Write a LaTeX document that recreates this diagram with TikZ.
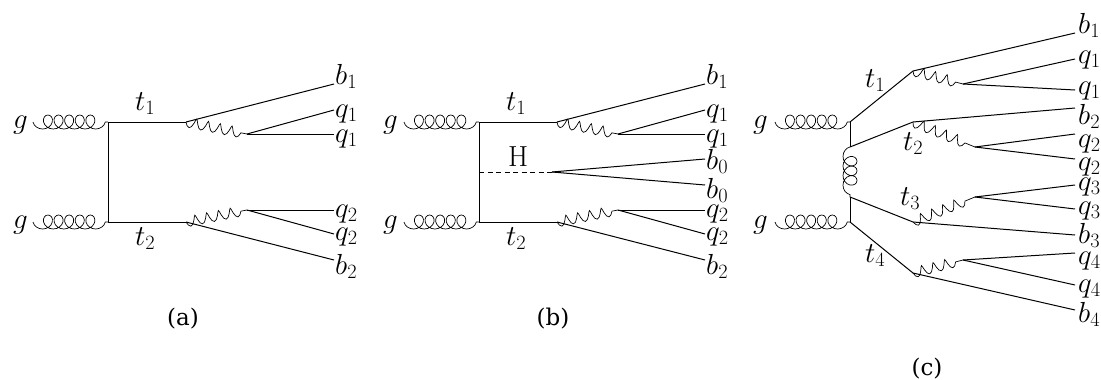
\documentclass[tikz,border=0pt]{standalone}
\usepackage{fix-cm}
\usepackage{amsmath}
\usepackage{fontspec}
\newfontfamily\capfont{DejaVu Serif}
\usetikzlibrary{positioning, decorations.pathmorphing}
\begin{document}
\begin{tikzpicture}[
      x=1pt, y=-1pt,
      lbl/.style={anchor=base west, inner sep=0pt, font=\fontsize{29}{29}\selectfont},
      capt/.style={anchor=base, inner sep=0pt, font=\fontsize{23}{23}\selectfont\capfont},
      quark/.style={black, line width=1pt},
      higgs/.style={black, line width=1pt, dash pattern=on 5pt off 3.5pt},
      wboson/.style={black, line width=0.7pt, decorate, decoration={coil, mirror, aspect=0.2, amplitude=5pt, segment length=12pt}},
      gluon/.style={black, line width=0.7pt, decorate, decoration={coil, mirror, aspect=1, amplitude=7pt, segment length=10.6pt}}
  ]
    \useasboundingbox (0,0) rectangle (1101,380);
    % (a)
    \coordinate(ag1) at (33,122); \coordinate(ag2) at (33,222);
    \coordinate(at) at (108,122); \coordinate(ab) at (108,222);
    \coordinate(au) at (186,122); \coordinate(ad) at (186,222);
    \coordinate(awu) at (247,134); \coordinate(awd) at (247,210);
    \coordinate(aeb1) at (334,84); \coordinate(aeq1) at (334,110); \coordinate(aeq2) at (334,134);
    \coordinate(aeq3) at (334,210); \coordinate(aeq4) at (334,234); \coordinate(aeb2) at (334,260);
    \draw[gluon](ag1)--(at); \draw[gluon](ag2)--(ab);
    \draw[quark](at)--(ab); \draw[quark](at)--(au); \draw[quark](ab)--(ad);
    \draw[wboson](au)--(awu); \draw[wboson](ad)--(awd);
    \draw[quark](au)--(aeb1); \draw[quark](awu)--(aeq1); \draw[quark](awu)--(aeq2);
    \draw[quark](awd)--(aeq3); \draw[quark](awd)--(aeq4); \draw[quark](ad)--(aeb2);
    \node[lbl](agt) at (13,128){$g$}; \node[lbl](agb) at (13,228){$g$};
    \node[lbl](at1) at (135,110){$t_1$}; \node[lbl](at2) at (135,245){$t_2$};
    \node[lbl](ab1) at (335,84){$b_1$}; \node[lbl](aq1) at (335,117){$q_1$}; \node[lbl](aq2) at (335,142){$q_1$};
    \node[lbl](aq3) at (335,217){$q_2$}; \node[lbl](aq4) at (335,240){$q_2$}; \node[lbl](ab2) at (335,274){$b_2$};
    \node[capt](acap) at (183,325){(a)};
    % (b)
    \coordinate(bg1) at (404,122); \coordinate(bg2) at (404,222);
    \coordinate(bt) at (479,122); \coordinate(bb) at (479,222);
    \coordinate(bm) at (479,172); \coordinate(bh) at (552,172);
    \coordinate(bu) at (557,122); \coordinate(bd) at (557,222);
    \coordinate(bwu) at (618,134); \coordinate(bwd) at (618,210);
    \coordinate(beb1) at (705,84); \coordinate(beq1) at (705,110); \coordinate(beq2) at (705,134);
    \coordinate(beb3) at (705,159); \coordinate(beb4) at (705,185);
    \coordinate(beq3) at (705,210); \coordinate(beq4) at (705,234); \coordinate(beb2) at (705,260);
    \draw[gluon](bg1)--(bt); \draw[gluon](bg2)--(bb);
    \draw[quark](bt)--(bb); \draw[quark](bt)--(bu); \draw[quark](bb)--(bd);
    \draw[higgs](bm)--(bh);
    \draw[wboson](bu)--(bwu); \draw[wboson](bd)--(bwd);
    \draw[quark](bu)--(beb1); \draw[quark](bwu)--(beq1); \draw[quark](bwu)--(beq2);
    \draw[quark](bh)--(beb3); \draw[quark](bh)--(beb4);
    \draw[quark](bwd)--(beq3); \draw[quark](bwd)--(beq4); \draw[quark](bd)--(beb2);
    \node[lbl](bgt) at (383,128){$g$}; \node[lbl](bgb) at (383,228){$g$};
    \node[lbl](bt1) at (506,110){$t_1$}; \node[lbl](bt2) at (506,245){$t_2$};
    \node[lbl](bhl) at (508,166){H};
    \node[lbl](bb1) at (706,84){$b_1$}; \node[lbl](bq1) at (706,117){$q_1$}; \node[lbl](bq2) at (706,142){$q_1$};
    \node[lbl](bb3) at (706,169){$b_0$}; \node[lbl](bb4) at (706,198){$b_0$};
    \node[lbl](bq3) at (706,217){$q_2$}; \node[lbl](bq4) at (706,240){$q_2$}; \node[lbl](bb2) at (706,274){$b_2$};
    \node[capt](bcap) at (553,325){(b)};
    % (c)
    \coordinate(cg1) at (775,122); \coordinate(cg2) at (775,222);
    \coordinate(ca) at (850,122); \coordinate(cb) at (850,147); \coordinate(cc) at (850,197); \coordinate(cd) at (850,222);
    \coordinate(c1) at (913,71); \coordinate(c2) at (913,122); \coordinate(c3) at (913,222); \coordinate(c4) at (913,273);
    \coordinate(cw1) at (963,84); \coordinate(cw2) at (975,147); \coordinate(cw3) at (975,197); \coordinate(cw4) at (963,260);
    \coordinate(ceb1) at (1075,33); \coordinate(ceq1) at (1075,59); \coordinate(ceq2) at (1075,90);
    \coordinate(ceb2) at (1075,108); \coordinate(ceq3) at (1075,134); \coordinate(ceq4) at (1075,159);
    \coordinate(ceq5) at (1075,185); \coordinate(ceq6) at (1075,209); \coordinate(ceb3) at (1075,235);
    \coordinate(ceq7) at (1075,253); \coordinate(ceq8) at (1075,285); \coordinate(ceb4) at (1075,310);
    \draw[gluon](cg1)--(ca); \draw[gluon](cg2)--(cd);
    \draw[quark](ca)--(cb); \draw[quark](cc)--(cd);
    \draw[gluon, decoration={segment length=9.6pt}](cb)--(cc);
    \draw[quark](ca)--(c1); \draw[quark](cb)--(c2); \draw[quark](cc)--(c3); \draw[quark](cd)--(c4);
    \draw[wboson](c1)--(cw1); \draw[wboson](c2)--(cw2); \draw[wboson](c3)--(cw3); \draw[wboson](c4)--(cw4);
    \draw[quark](c1)--(ceb1); \draw[quark](cw1)--(ceq1); \draw[quark](cw1)--(ceq2);
    \draw[quark](c2)--(ceb2); \draw[quark](cw2)--(ceq3); \draw[quark](cw2)--(ceq4);
    \draw[quark](cw3)--(ceq5); \draw[quark](cw3)--(ceq6); \draw[quark](c3)--(ceb3);
    \draw[quark](cw4)--(ceq7); \draw[quark](cw4)--(ceq8); \draw[quark](c4)--(ceb4);
    \node[lbl](cgt) at (753,128){$g$}; \node[lbl](cgb) at (753,228){$g$};
    \node[lbl](ct1) at (865,87){$t_1$}; \node[lbl](ct2) at (903,150){$t_2$};
    \node[lbl](ct3) at (900,205){$t_3$}; \node[lbl](ct4) at (865,262){$t_4$};
    \node[lbl](cb1) at (1078,33){$b_1$}; \node[lbl](cq1) at (1078,63){$q_1$}; \node[lbl](cq2) at (1078,94){$q_1$};
    \node[lbl](cb2) at (1078,124){$b_2$}; \node[lbl](cq3) at (1078,147){$q_2$}; \node[lbl](cq4) at (1078,170){$q_2$};
    \node[lbl](cq5) at (1078,190){$q_3$}; \node[lbl](cq6) at (1078,214){$q_3$}; \node[lbl](cb3) at (1078,243){$b_3$};
    \node[lbl](cq7) at (1078,264){$q_4$}; \node[lbl](cq8) at (1078,292){$q_4$}; \node[lbl](cb4) at (1078,322){$b_4$};
    \node[capt](ccap) at (927,375){(c)};
  \end{tikzpicture}
\end{document}
